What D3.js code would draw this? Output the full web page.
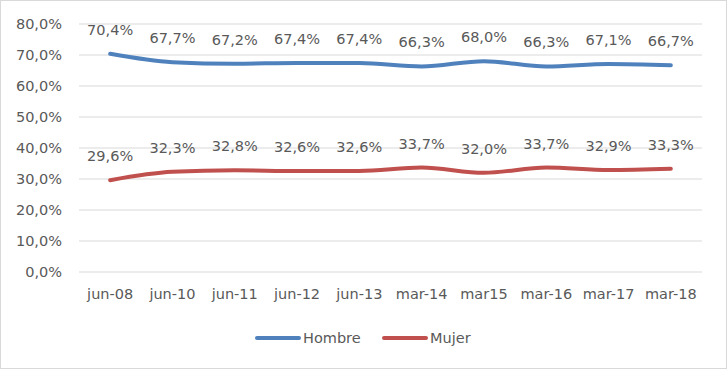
<!DOCTYPE html>
<html>
<head>
<meta charset="utf-8">
<script src="https://cdn.jsdelivr.net/npm/d3@7"></script>
<style>
  body { margin: 0; background: #fff; }
  svg text { font-family: "DejaVu Sans", sans-serif; fill: #595959; }
</style>
</head>
<body>
<svg id="chart" width="727" height="369"></svg>
<script>
const width = 727;
const height = 369;
const fontSize = 14.5;

const categories = ["jun-08", "jun-10", "jun-11", "jun-12", "jun-13", "mar-14", "mar15", "mar-16", "mar-17", "mar-18"];
const hombre = [70.4, 67.7, 67.2, 67.4, 67.4, 66.3, 68.0, 66.3, 67.1, 66.7];
const mujer = [29.6, 32.3, 32.8, 32.6, 32.6, 33.7, 32.0, 33.7, 32.9, 33.3];
const yTicks = [0, 10, 20, 30, 40, 50, 60, 70, 80];

const series = [
  { name: "Hombre", values: hombre, color: "#4F81BD" },
  { name: "Mujer", values: mujer, color: "#C0504D" }
];

const fmt = v => d3.format(".1f")(v).replace(".", ",") + "%";

const margin = { top: 24, right: 25, bottom: 97, left: 79 };
const innerW = width - margin.left - margin.right;
const innerH = height - margin.top - margin.bottom;

const svg = d3.select("#chart");

svg.append("rect")
  .attr("x", 0.5).attr("y", 0.5)
  .attr("width", width - 1).attr("height", height - 1)
  .attr("fill", "#fff")
  .attr("stroke", "#d9d9d9");

const g = svg.append("g")
  .attr("transform", `translate(${margin.left},${margin.top})`);

const x = d3.scaleBand()
  .domain(categories)
  .range([0, innerW]);

const y = d3.scaleLinear()
  .domain([0, 80])
  .range([innerH, 0]);

// gridlines
g.append("g")
  .selectAll("line")
  .data(yTicks)
  .join("line")
    .attr("x1", 0)
    .attr("x2", innerW)
    .attr("y1", d => y(d))
    .attr("y2", d => y(d))
    .attr("stroke", "#d9d9d9")
    .attr("stroke-width", 1);

// y axis
const yAxis = g.append("g")
  .call(d3.axisLeft(y).tickValues(yTicks).tickFormat(fmt).tickSize(0).tickPadding(17));
yAxis.select(".domain").remove();
yAxis.selectAll("text")
  .attr("font-size", fontSize)
  .style("font-family", "DejaVu Sans, sans-serif")
  .attr("fill", "#595959");

// x axis
const xAxis = g.append("g")
  .attr("transform", `translate(0,${innerH})`)
  .call(d3.axisBottom(x).tickSize(0).tickPadding(17));
xAxis.select(".domain").remove();
xAxis.selectAll("text")
  .attr("font-size", fontSize)
  .style("font-family", "DejaVu Sans, sans-serif")
  .attr("fill", "#595959");

const line = d3.line()
  .x((d, i) => x(categories[i]) + x.bandwidth() / 2)
  .y(d => y(d))
  .curve(d3.curveMonotoneX);

series.forEach(s => {
  g.append("path")
    .datum(s.values)
    .attr("fill", "none")
    .attr("stroke", s.color)
    .attr("stroke-width", 4)
    .attr("stroke-linecap", "round")
    .attr("d", line);

  g.append("g")
    .selectAll("text")
    .data(s.values)
    .join("text")
      .attr("x", (d, i) => x(categories[i]) + x.bandwidth() / 2)
      .attr("y", d => y(d) - 19)
      .attr("text-anchor", "middle")
      .attr("font-size", fontSize)
      .text(d => fmt(d));
});

// legend
const legend = svg.append("g")
  .attr("transform", "translate(0,338)");

const legendX = [257, 384];
series.forEach((s, i) => {
  legend.append("line")
    .attr("x1", legendX[i])
    .attr("x2", legendX[i] + 42)
    .attr("y1", 0)
    .attr("y2", 0)
    .attr("stroke", s.color)
    .attr("stroke-width", 4)
    .attr("stroke-linecap", "round");
  legend.append("text")
    .attr("x", legendX[i] + 46)
    .attr("y", 5)
    .attr("font-size", fontSize)
    .text(s.name);
});
</script>
</body>
</html>
